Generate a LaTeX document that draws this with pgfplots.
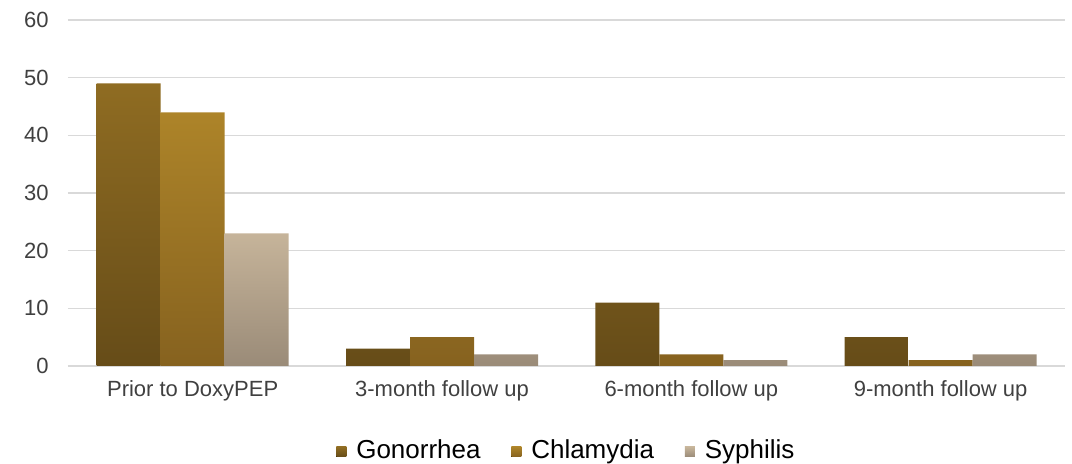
\documentclass[border=0pt]{standalone}
\usepackage{pgfplots}
\pgfplotsset{compat=1.18}
\usepackage{fontspec}
\setmainfont{Liberation Sans}
\definecolor{gtop}{HTML}{8F6C22}
\definecolor{gbot}{HTML}{664C18}
\definecolor{ctop}{HTML}{AD8429}
\definecolor{cbot}{HTML}{86621F}
\definecolor{stop}{HTML}{C6B49A}
\definecolor{sbot}{HTML}{9A8B78}
\definecolor{gridc}{HTML}{D9D9D9}
\definecolor{txt}{HTML}{404040}
\begin{document}
\begin{tikzpicture}
\useasboundingbox (-51pt,-73.5pt) rectangle (753pt,274.5pt);
\begin{axis}[
  scale only axis,
  width=748pt, height=259.5pt,
  anchor=south west, at={(0,0)},
  ymin=0, ymax=60, ytick={0,10,...,60},
  xmin=-0.5, xmax=3.5,
  xtick={0,1,2,3},
  xticklabels={Prior to DoxyPEP,3-month follow up,6-month follow up,9-month follow up},
  extra x ticks={-0.5,0.5,1.5,2.5,3.5},
  extra x tick labels={},
  extra x tick style={major tick length=4pt, tick style={draw=gridc, line width=0.8pt}, tick align=outside, grid=none},
  x tick style={draw=none},
  y tick style={draw=none},
  ymajorgrids, grid style={draw=gridc, line width=0.9pt},
  axis lines*=left,
  y axis line style={draw=none},
  x axis line style={draw=gridc, line width=0.9pt, -},
  ybar=0pt, bar width=48pt,
  tick label style={font=\fontsize{16.5pt}{18pt}\selectfont, text=txt},
  /pgf/number format/assume math mode=true,
  yticklabel style={xshift=-11pt},
  xticklabel style={yshift=-3pt},
  legend style={at={(0.5,-0.2436)}, anchor=center, draw=none, legend columns=-1,
    font=\fontsize{19.5pt}{21pt}\selectfont, text=black, inner sep=0pt,
    /tikz/every even column/.append style={column sep=21pt}},
  legend image code/.code={\fill[#1] (0pt,-5pt) rectangle (7.5pt,2.5pt); \path (13pt,0pt);},
]
\addplot[draw=none, top color=gtop, bottom color=gbot] coordinates {(0,49) (1,3) (2,11) (3,5)};
\addplot[draw=none, top color=ctop, bottom color=cbot] coordinates {(0,44) (1,5) (2,2) (3,1)};
\addplot[draw=none, top color=stop, bottom color=sbot] coordinates {(0,23) (1,2) (2,1) (3,2)};
\legend{Gonorrhea,Chlamydia,Syphilis}
\end{axis}
\end{tikzpicture}
\end{document}
